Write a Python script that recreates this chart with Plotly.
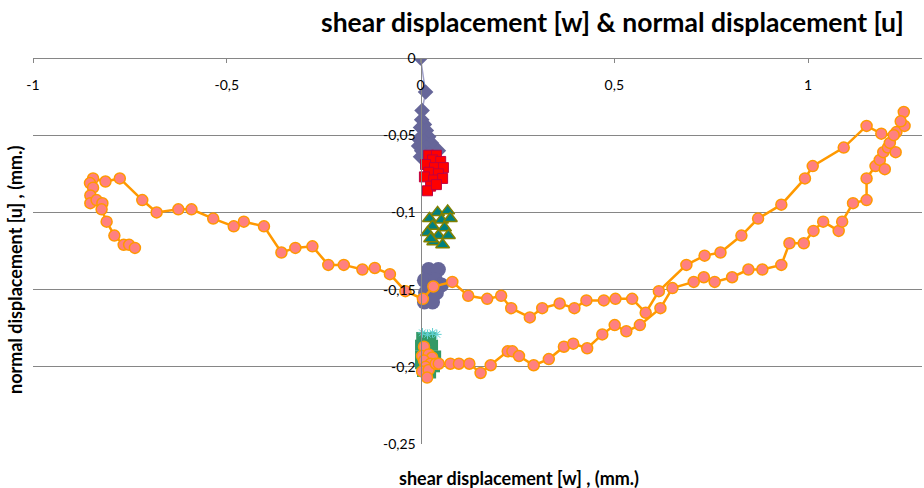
import plotly.graph_objects as go

# ---------------- data (mm) ----------------
# main path: shear displacement w (x) vs normal displacement u (y)
path_w = [0.009, 0.004, 0.021, 0.030, 0.009, 0.026, 0.013, 0.004, 0.021, 0.017, 0.039, 0.047,
          0.077, 0.099, 0.126, 0.155, 0.181, 0.225, 0.237, 0.254, 0.292, 0.331, 0.370, 0.394,
          0.430, 0.469, 0.501, 0.531, 0.566, 0.619, 0.650, 0.705, 0.731, 0.759, 0.804, 0.846,
          0.882, 0.931, 0.952, 0.989, 1.014, 1.039, 1.079, 1.088, 1.116, 1.151, 1.151, 1.174,
          1.185, 1.198, 1.194, 1.206, 1.226, 1.211, 1.228, 1.249, 1.247, 1.239, 1.221, 1.189,
          1.151, 1.092, 1.012, 0.992, 0.931, 0.871, 0.828, 0.774, 0.733, 0.686, 0.615, 0.581,
          0.546, 0.503, 0.473, 0.428, 0.397, 0.359, 0.314, 0.282, 0.234, 0.208, 0.172, 0.123,
          0.082, 0.033, 0.006, -0.039, -0.079, -0.118, -0.150, -0.198, -0.238, -0.279, -0.323,
          -0.359, -0.404, -0.456, -0.482, -0.535, -0.591, -0.625, -0.681, -0.718, -0.776, -0.813,
          -0.845, -0.853, -0.845, -0.852, -0.852, -0.836, -0.821, -0.823, -0.810, -0.790, -0.766,
          -0.752, -0.737]
path_u = [-0.187, -0.193, -0.192, -0.194, -0.196, -0.198, -0.200, -0.203, -0.202, -0.207, -0.198, -0.198,
          -0.198, -0.198, -0.198, -0.204, -0.199, -0.190, -0.190, -0.193, -0.199, -0.195, -0.187, -0.185,
          -0.188, -0.179, -0.173, -0.177, -0.173, -0.162, -0.149, -0.145, -0.142, -0.145, -0.142, -0.137,
          -0.137, -0.134, -0.120, -0.120, -0.112, -0.106, -0.112, -0.106, -0.094, -0.092, -0.078, -0.070,
          -0.066, -0.072, -0.061, -0.058, -0.061, -0.055, -0.048, -0.044, -0.035, -0.041, -0.050, -0.049,
          -0.044, -0.058, -0.070, -0.078, -0.095, -0.104, -0.115, -0.126, -0.128, -0.134, -0.151, -0.165,
          -0.156, -0.156, -0.157, -0.157, -0.162, -0.159, -0.162, -0.168, -0.162, -0.154, -0.156, -0.154,
          -0.145, -0.148, -0.156, -0.151, -0.140, -0.136, -0.137, -0.134, -0.134, -0.122, -0.123,
          -0.126, -0.109, -0.106, -0.109, -0.104, -0.098, -0.098, -0.100, -0.092, -0.078, -0.080,
          -0.078, -0.081, -0.084, -0.089, -0.094, -0.092, -0.094, -0.098, -0.106, -0.115, -0.121,
          -0.121, -0.123]

# stage 1 (diamonds)
s1_w = [0.000, 0.013, 0.004, 0.003, 0.010, 0.000, 0.015, 0.005, 0.021, -0.003, 0.010, 0.028,
        -0.005, 0.015, 0.036, 0.003, 0.046, 0.023, 0.000, 0.013]
s1_u = [0.000, -0.022, -0.034, -0.040, -0.043, -0.045, -0.047, -0.050, -0.051, -0.053, -0.054, -0.055,
        -0.057, -0.058, -0.059, -0.060, -0.060, -0.062, -0.064, -0.066]
# stage 2 (squares)
s2_w = [0.021, 0.041, 0.031, 0.052, 0.013, 0.036, 0.059, 0.021, 0.046, 0.010, 0.034, 0.057, 0.026, 0.018, 0.041]
s2_u = [-0.063, -0.063, -0.066, -0.067, -0.069, -0.071, -0.071, -0.074, -0.075, -0.077, -0.079, -0.078,
        -0.083, -0.086, -0.082]
# stage 3 (triangles)
s3_w = [0.044, 0.070, 0.023, 0.054, 0.077, 0.031, 0.062, 0.018, 0.046, 0.072, 0.034, 0.057, 0.026]
s3_u = [-0.100, -0.099, -0.104, -0.105, -0.104, -0.109, -0.110, -0.113, -0.115, -0.115, -0.119, -0.121, -0.117]
# stage 4 (blob)
s4_w = [0.021, 0.046, 0.010, 0.039, 0.054, 0.013, 0.041, 0.010, 0.031]
s4_u = [-0.137, -0.137, -0.144, -0.144, -0.147, -0.152, -0.152, -0.158, -0.158]
# stage 5 (green squares)
s5_w = [0.003, 0.026, 0.000, 0.031, 0.000, 0.039, 0.000, 0.036, 0.005, 0.026]
s5_u = [-0.181, -0.181, -0.186, -0.186, -0.193, -0.193, -0.198, -0.200, -0.203, -0.204]
# stage 5b (star markers at top of green cluster)
s6_w = [0.005, 0.018, 0.031, 0.042]
s6_u = [-0.178, -0.179, -0.178, -0.179]

x_ticks = [-1, -0.5, 0, 0.5, 1]
x_ticktext = ["-1", "-0,5", "0", "0,5", "1"]
y_ticks = [0, -0.05, -0.1, -0.15, -0.2, -0.25]
y_ticktext = ["0", "-0,05", "-0,1", "-0,15", "-0,2", "-0,25"]

X_RANGE = [-1, 1.294]
Y_RANGE = [-0.25, 0]

fig = go.Figure()
fig.add_trace(go.Scatter(x=s1_w, y=s1_u, mode="lines+markers",
                         line=dict(color="#a0a0c8", width=1.5),
                         marker=dict(symbol="diamond", size=12, color="#666699")))
fig.add_trace(go.Scatter(x=s2_w, y=s2_u, mode="markers",
                         marker=dict(symbol="square", size=10, color="#ff0000",
                                     line=dict(color="#c00040", width=1))))
fig.add_trace(go.Scatter(x=s3_w, y=s3_u, mode="markers",
                         marker=dict(symbol="triangle-up", size=12, color="#008080",
                                     line=dict(color="#808000", width=1.5))))
fig.add_trace(go.Scatter(x=s4_w, y=s4_u, mode="markers",
                         marker=dict(symbol="circle", size=15, color="#666699")))
fig.add_trace(go.Scatter(x=s5_w, y=s5_u, mode="markers",
                         marker=dict(symbol="square", size=11, color="#339966")))
fig.add_trace(go.Scatter(x=s6_w, y=s6_u, mode="markers",
                         marker=dict(symbol="asterisk-open", size=8, color="#5fd0d0",
                                     line=dict(color="#5fd0d0", width=1))))
fig.add_trace(go.Scatter(x=path_w, y=path_u, mode="lines+markers",
                         line=dict(color="#ff9900", width=2.5),
                         marker=dict(symbol="circle", size=11, color="#ff8080",
                                     line=dict(color="#ff9900", width=1.5))))

L, R, T, B = 33, 2, 58, 44
W, H = 924, 488
pw, ph = W - L - R, H - T - B

def px_x(px):
    return (px - L) / pw

def px_y(py):
    return (H - B - py) / ph

y_axis_pos = (0 - X_RANGE[0]) / (X_RANGE[1] - X_RANGE[0])

fig.update_layout(
    width=W, height=H, margin=dict(l=L, r=R, t=T, b=B, autoexpand=False),
    paper_bgcolor="white", plot_bgcolor="white", showlegend=False,
    font=dict(family="Lato", size=12, color="#000000"),
    xaxis=dict(range=X_RANGE, side="bottom", anchor="free", position=1,
               tickvals=x_ticks, ticktext=x_ticktext, automargin=False,
               showgrid=False, zeroline=False, showline=True, linecolor="#868686", linewidth=1,
               ticks="outside", ticklen=4, tickcolor="#868686",
               ticklabelstandoff=10,
               tickfont=dict(family="Lato", size=14)),
    yaxis=dict(range=Y_RANGE, tickvals=y_ticks, ticktext=y_ticktext,
               anchor="free", position=y_axis_pos, automargin=False,
               showgrid=True, gridcolor="#868686", gridwidth=1, zeroline=False,
               showline=True, linecolor="#868686", linewidth=1, ticks="",
               ticklabelstandoff=2,
               tickfont=dict(family="Lato", size=14)),
    annotations=[
        dict(text="<b>shear displacement [w] & normal displacement [u]</b>", xref="paper", yref="paper",
             x=px_x(906), y=px_y(22), xanchor="right", yanchor="middle", showarrow=False,
             font=dict(family="Lato", size=26.5, color="#000000")),
        dict(text="<b>shear displacement [w] , (mm.)</b>", xref="paper", yref="paper",
             x=px_x(519), y=px_y(478), xanchor="center", yanchor="middle", showarrow=False,
             font=dict(family="Lato", size=18, color="#000000")),
        dict(text="<b>normal displacement [u] , (mm.)</b>", xref="paper", yref="paper",
             x=px_x(15), y=px_y(270), xanchor="center", yanchor="middle", showarrow=False,
             textangle=-90, font=dict(family="Lato", size=18, color="#000000")),
    ],
)

fig.write_html("out.html", config={"displayModeBar": False},
               post_script="document.body.style.margin='0';document.body.style.overflow='hidden';")
